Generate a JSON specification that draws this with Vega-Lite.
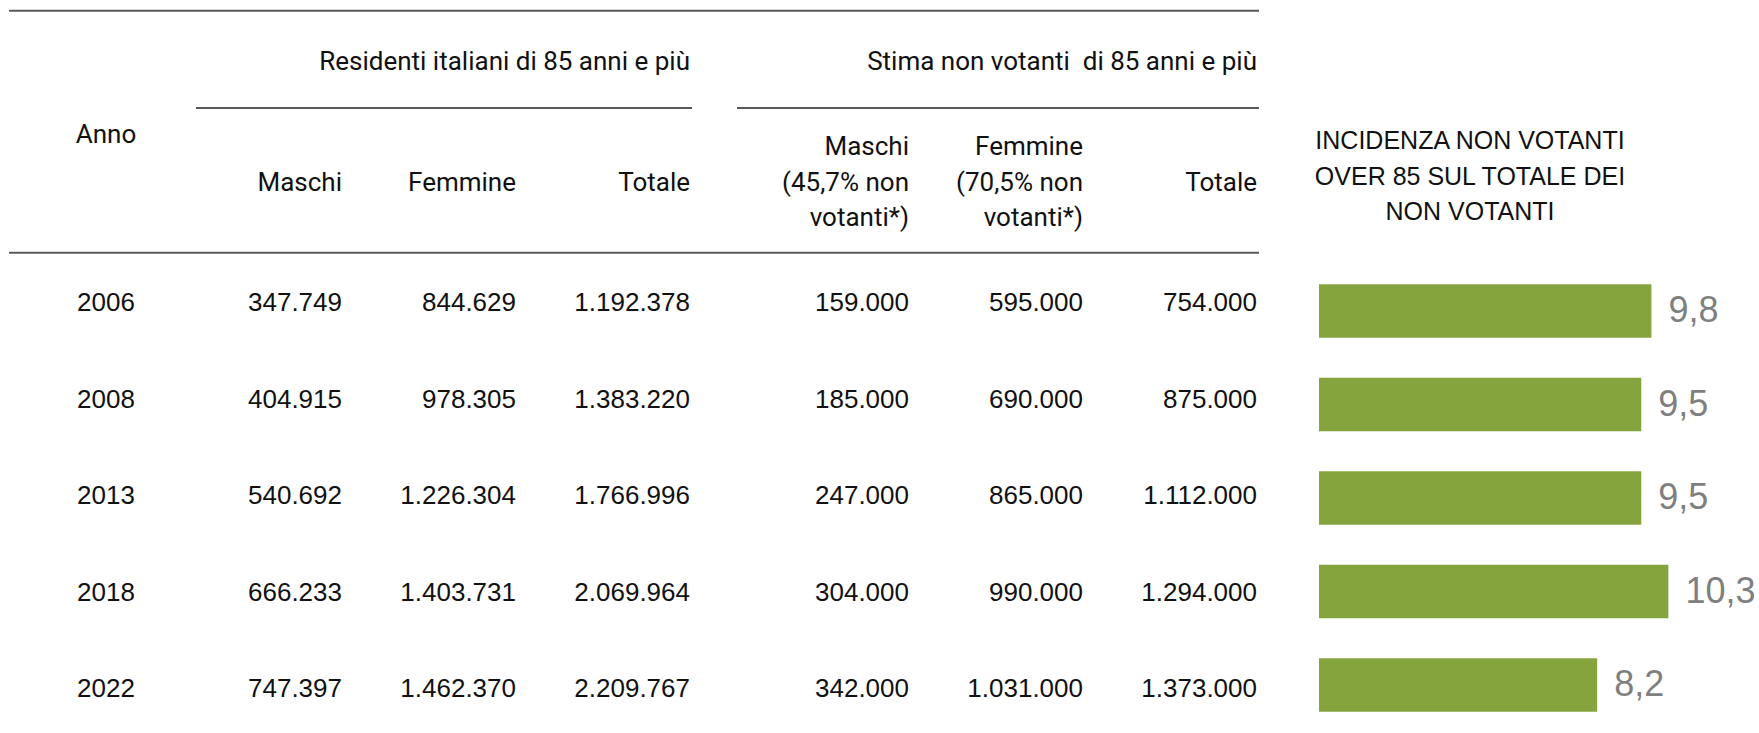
{
  "$schema": "https://vega.github.io/schema/vega-lite/v6.json",
  "width": 1759,
  "height": 733,
  "padding": 0,
  "autosize": {"type": "fit", "contains": "padding"},
  "background": "white",
  "config": {
    "view": {"stroke": null},
    "locale": {"number": {"decimal": ",", "thousands": ".", "grouping": [3], "currency": ["€", ""]}}
  },
  "datasets": {
    "tabella": [
      {"Anno": "2006", "res_m": 347749, "res_f": 844629, "res_t": 1192378, "nv_m": 159000, "nv_f": 595000, "nv_t": 754000, "incidenza": 9.8},
      {"Anno": "2008", "res_m": 404915, "res_f": 978305, "res_t": 1383220, "nv_m": 185000, "nv_f": 690000, "nv_t": 875000, "incidenza": 9.5},
      {"Anno": "2013", "res_m": 540692, "res_f": 1226304, "res_t": 1766996, "nv_m": 247000, "nv_f": 865000, "nv_t": 1112000, "incidenza": 9.5},
      {"Anno": "2018", "res_m": 666233, "res_f": 1403731, "res_t": 2069964, "nv_m": 304000, "nv_f": 990000, "nv_t": 1294000, "incidenza": 10.3},
      {"Anno": "2022", "res_m": 747397, "res_f": 1462370, "res_t": 2209767, "nv_m": 342000, "nv_f": 1031000, "nv_t": 1373000, "incidenza": 8.2}
    ],
    "intestazioni": [
      {"gruppo": "R", "colonna": "res_m", "etichetta": ["Maschi"]},
      {"gruppo": "R", "colonna": "res_f", "etichetta": ["Femmine"]},
      {"gruppo": "R", "colonna": "res_t", "etichetta": ["Totale"]},
      {"gruppo": "S", "colonna": "nv_m", "etichetta": ["Maschi", "(45,7% non", "votanti*)"]},
      {"gruppo": "S", "colonna": "nv_f", "etichetta": ["Femmine", "(70,5% non", "votanti*)"]},
      {"gruppo": "S", "colonna": "nv_t", "etichetta": ["Totale"]}
    ],
    "gruppi": [
      {"gruppo": "R", "titolo": "Residenti italiani di 85 anni e più", "prima": "res_m", "ultima": "res_t"},
      {"gruppo": "S", "titolo": "Stima non votanti \u00a0di 85 anni e più", "prima": "nv_m", "ultima": "nv_t"}
    ]
  },
  "layer": [
    {
      "layer": [
        {
          "data": {"name": "tabella"},
          "mark": {"type": "text", "align": "center", "baseline": "middle", "dx": 10, "font": "Liberation Sans", "fontSize": 26, "color": "#111111"},
          "encoding": {
            "x": {"datum": "Anno", "type": "nominal", "bandPosition": 0.5, "axis": null,
                  "scale": {"type": "band", "domain": ["Anno", "res_m", "res_f", "res_t", "nv_m", "nv_f", "nv_t"], "range": [9, 1227], "paddingInner": 0, "paddingOuter": 0}},
            "y": {"field": "Anno", "type": "nominal", "bandPosition": 0.5, "axis": null,
                  "scale": {"type": "band", "domain": ["gruppo", "colonne", "2006", "2008", "2013", "2018", "2022"], "range": [61.75, 737.25], "paddingInner": 0, "paddingOuter": 0}},
            "text": {"field": "Anno", "type": "nominal"}
          }
        },
        {
          "data": {"values": [{"intestazione": "Anno"}]},
          "mark": {"type": "text", "align": "center", "baseline": "middle", "dx": 10, "dy": 25, "font": "Roboto", "fontSize": 26, "color": "#111111"},
          "encoding": {
            "x": {"datum": "Anno", "type": "nominal", "bandPosition": 0.5, "axis": null},
            "y": {"datum": "gruppo", "type": "nominal", "bandPosition": 0.5, "axis": null},
            "text": {"field": "intestazione", "type": "nominal"}
          }
        },
        {
          "data": {"values": [{"linea": "alto", "livello": "gruppo"}]},
          "mark": {"type": "rule", "color": "#595959", "strokeWidth": 2, "yOffset": -51, "x2Offset": 32},
          "encoding": {
            "x": {"datum": "Anno", "type": "nominal", "bandPosition": 0, "axis": null},
            "x2": {"datum": "nv_t", "bandPosition": 1},
            "y": {"field": "livello", "type": "nominal", "bandPosition": 0, "axis": null}
          }
        },
        {
          "data": {"values": [{"linea": "sotto", "livello": "colonne"}]},
          "mark": {"type": "rule", "color": "#595959", "strokeWidth": 2, "yOffset": -2, "x2Offset": 32},
          "encoding": {
            "x": {"datum": "Anno", "type": "nominal", "bandPosition": 0, "axis": null},
            "x2": {"datum": "nv_t", "bandPosition": 1},
            "y": {"field": "livello", "type": "nominal", "bandPosition": 1, "axis": null}
          }
        },
        {
          "data": {"name": "tabella"},
          "transform": [{"fold": ["res_m", "res_f", "res_t"], "as": ["colonna", "valore"]}],
          "mark": {"type": "text", "align": "right", "baseline": "middle", "dx": -15, "font": "Liberation Sans", "fontSize": 26, "color": "#111111"},
          "encoding": {
            "x": {"field": "colonna", "type": "nominal", "bandPosition": 1, "axis": null},
            "y": {"field": "Anno", "type": "nominal", "bandPosition": 0.5, "axis": null},
            "text": {"field": "valore", "type": "quantitative", "format": ",d"}
          }
        },
        {
          "data": {"name": "tabella"},
          "transform": [{"fold": ["nv_m", "nv_f", "nv_t"], "as": ["colonna", "valore"]}],
          "mark": {"type": "text", "align": "right", "baseline": "middle", "dx": 30, "font": "Liberation Sans", "fontSize": 26, "color": "#111111"},
          "encoding": {
            "x": {"field": "colonna", "type": "nominal", "bandPosition": 1, "axis": null},
            "y": {"field": "Anno", "type": "nominal", "bandPosition": 0.5, "axis": null},
            "text": {"field": "valore", "type": "quantitative", "format": ",d"}
          }
        },
        {
          "data": {"name": "intestazioni"},
          "transform": [{"filter": "datum.gruppo === 'R'"}],
          "mark": {"type": "text", "align": "right", "baseline": "middle", "dx": -15, "dy": -23.5, "lineHeight": 35.5, "font": "Roboto", "fontSize": 26, "color": "#111111"},
          "encoding": {
            "x": {"field": "colonna", "type": "nominal", "bandPosition": 1, "axis": null},
            "y": {"datum": "colonne", "type": "nominal", "bandPosition": 0.5, "axis": null},
            "text": {"field": "etichetta"}
          }
        },
        {
          "data": {"name": "intestazioni"},
          "transform": [{"filter": "datum.gruppo === 'S' && length(datum.etichetta) > 1"}],
          "mark": {"type": "text", "align": "right", "baseline": "middle", "dx": 30, "dy": -59.5, "lineHeight": 35.7, "font": "Roboto", "fontSize": 26, "color": "#111111"},
          "encoding": {
            "x": {"field": "colonna", "type": "nominal", "bandPosition": 1, "axis": null},
            "y": {"datum": "colonne", "type": "nominal", "bandPosition": 0.5, "axis": null},
            "text": {"field": "etichetta"}
          }
        },
        {
          "data": {"name": "intestazioni"},
          "transform": [{"filter": "datum.gruppo === 'S' && length(datum.etichetta) === 1"}],
          "mark": {"type": "text", "align": "right", "baseline": "middle", "dx": 30, "dy": -23.5, "lineHeight": 35.5, "font": "Roboto", "fontSize": 26, "color": "#111111"},
          "encoding": {
            "x": {"field": "colonna", "type": "nominal", "bandPosition": 1, "axis": null},
            "y": {"datum": "colonne", "type": "nominal", "bandPosition": 0.5, "axis": null},
            "text": {"field": "etichetta"}
          }
        },
        {
          "data": {"name": "gruppi"},
          "transform": [{"filter": "datum.gruppo === 'R'"}],
          "mark": {"type": "text", "align": "right", "baseline": "middle", "dx": -15, "dy": -48, "font": "Roboto", "fontSize": 26, "color": "#111111"},
          "encoding": {
            "x": {"field": "ultima", "type": "nominal", "bandPosition": 1, "axis": null},
            "y": {"datum": "gruppo", "type": "nominal", "bandPosition": 0.5, "axis": null},
            "text": {"field": "titolo", "type": "nominal"}
          }
        },
        {
          "data": {"name": "gruppi"},
          "transform": [{"filter": "datum.gruppo === 'S'"}],
          "mark": {"type": "text", "align": "right", "baseline": "middle", "dx": 30, "dy": -48, "font": "Roboto", "fontSize": 26, "color": "#111111"},
          "encoding": {
            "x": {"field": "ultima", "type": "nominal", "bandPosition": 1, "axis": null},
            "y": {"datum": "gruppo", "type": "nominal", "bandPosition": 0.5, "axis": null},
            "text": {"field": "titolo", "type": "nominal"}
          }
        },
        {
          "data": {"name": "gruppi"},
          "transform": [{"filter": "datum.gruppo === 'R'"}],
          "mark": {"type": "rule", "color": "#595959", "strokeWidth": 2, "yOffset": -2, "xOffset": 13, "x2Offset": -13},
          "encoding": {
            "x": {"field": "prima", "type": "nominal", "bandPosition": 0, "axis": null},
            "x2": {"field": "ultima", "bandPosition": 1},
            "y": {"datum": "gruppo", "type": "nominal", "bandPosition": 0.5, "axis": null}
          }
        },
        {
          "data": {"name": "gruppi"},
          "transform": [{"filter": "datum.gruppo === 'S'"}],
          "mark": {"type": "rule", "color": "#595959", "strokeWidth": 2, "yOffset": -2, "xOffset": 32, "x2Offset": 32},
          "encoding": {
            "x": {"field": "prima", "type": "nominal", "bandPosition": 0, "axis": null},
            "x2": {"field": "ultima", "bandPosition": 1},
            "y": {"datum": "gruppo", "type": "nominal", "bandPosition": 0.5, "axis": null}
          }
        }
      ]
    },
    {
      "layer": [
        {
          "data": {"name": "tabella"},
          "mark": {"type": "bar", "color": "#85A43E"},
          "encoding": {
            "x": {"field": "incidenza", "type": "quantitative", "axis": null,
                  "scale": {"domain": [0, 13], "range": [1319, 1760], "zero": true, "nice": false}},
            "y": {"field": "Anno", "type": "nominal", "axis": null,
                  "scale": {"type": "band", "domain": ["titolo", "2006", "2008", "2013", "2018", "2022"], "range": [170.75, 731.75], "paddingInner": 0.43, "paddingOuter": 0.215}}
          }
        },
        {
          "data": {"name": "tabella"},
          "mark": {"type": "text", "align": "left", "baseline": "middle", "dx": 17, "font": "Liberation Sans", "fontSize": 36, "color": "#7F7F7F"},
          "encoding": {
            "x": {"field": "incidenza", "type": "quantitative", "axis": null},
            "y": {"field": "Anno", "type": "nominal", "bandPosition": 0.5, "axis": null},
            "text": {"field": "incidenza", "type": "quantitative", "format": ".1f"}
          }
        },
        {
          "data": {"values": [{"titolo": ["INCIDENZA NON VOTANTI", "OVER 85 SUL TOTALE DEI", "NON VOTANTI"]}]},
          "mark": {"type": "text", "align": "center", "baseline": "middle", "dx": 151, "dy": -76.5, "lineHeight": 35.7, "font": "Liberation Sans", "fontSize": 25, "color": "#111111"},
          "encoding": {
            "x": {"datum": 0, "type": "quantitative", "axis": null},
            "y": {"datum": "titolo", "type": "nominal", "bandPosition": 0.5, "axis": null},
            "text": {"field": "titolo"}
          }
        }
      ]
    }
  ],
  "resolve": {"scale": {"x": "independent", "y": "independent"}}
}
